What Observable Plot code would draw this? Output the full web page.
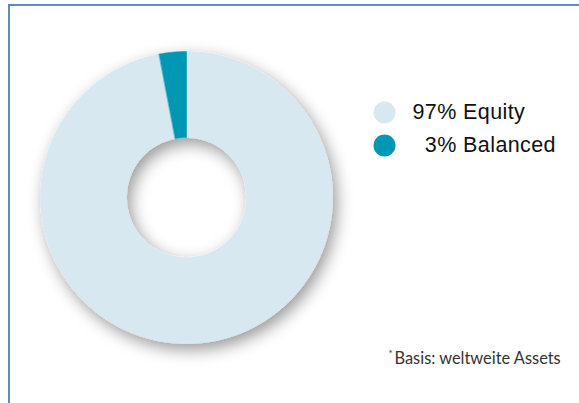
<!DOCTYPE html>
<html>
<head>
<meta charset="utf-8">
<script src="https://cdn.jsdelivr.net/npm/d3@7"></script>
<script src="https://cdn.jsdelivr.net/npm/@observablehq/plot@0.6"></script>
<style>
  html, body { margin: 0; padding: 0; background: #fff; }
  #wrap { position: relative; width: 579px; height: 403px; overflow: hidden; }
  #frame { position: absolute; left: 8px; top: 4px; width: 600px; height: 420px;
           border-top: 2px solid #6189bb; border-left: 2px solid #6189bb; pointer-events: none; }
</style>
</head>
<body>
<div id="wrap"><div id="frame"></div></div>
<script>
// ---- data ----
const categories = ["Equity", "Balanced"];
const shares = [97, 3];
const legendLabels = ["97% Equity", "\u20073% Balanced"];
const colors = ["#d7e8f1", "#0097b4"];
const noteMark = "*";
const caption = "Basis: weltweite Assets";

// ---- layout constants (pixel-based data space) ----
const cx = 186, cy = 197, W = 579, H = 403;
const rOuter = 146, rInner = 60;

const rows = categories.map((c, i) => ({category: c, share: shares[i], label: legendLabels[i]}));
const arcs = d3.pie().sort(null).value(d => d.share)(rows);

const pts = [];
for (const a of arcs) {
  const n = Math.max(2, Math.ceil((a.endAngle - a.startAngle) / (Math.PI / 360)));
  for (let k = 0; k <= n; k++) {
    const t = a.startAngle + (a.endAngle - a.startAngle) * k / n;
    pts.push({category: a.data.category, x: rOuter * Math.sin(t), y: rOuter * Math.cos(t)});
  }
  for (let k = n; k >= 0; k--) {
    const t = a.startAngle + (a.endAngle - a.startAngle) * k / n;
    pts.push({category: a.data.category, x: rInner * Math.sin(t), y: rInner * Math.cos(t)});
  }
}

const px = v => v - cx;       // pixel x -> data x
const py = v => cy - v;       // pixel y -> data y

const chart = Plot.plot({
  width: W, height: H, margin: 0,
  style: {background: "transparent", overflow: "visible"},
  x: {domain: [-cx, W - cx], axis: null},
  y: {domain: [cy - H, cy], axis: null},
  color: {domain: categories, range: colors},
  marks: [
    Plot.line(pts, {x: "x", y: "y", z: "category", fill: "category", stroke: "category", strokeWidth: 0.5, curve: "linear-closed"}),
    Plot.dot(rows, {x: () => px(384), y: (d, i) => py(112 + i * 33), r: 11, fill: "category", stroke: null}),
    Plot.text(rows, {x: () => px(412), y: (d, i) => py(112 + i * 33), text: "label", textAnchor: "start",
      fontSize: 21.5, fontFamily: "Liberation Sans, Arial, sans-serif", fill: "#111",
      letterSpacing: "0.4px"}),
    Plot.text([noteMark], {x: () => px(388), y: () => py(353), text: d => d, textAnchor: "start",
      fontSize: 10, fontFamily: "Lato, sans-serif", fill: "#333"}),
    Plot.text([caption], {x: () => px(394), y: () => py(358.7), text: d => d, textAnchor: "start",
      fontSize: 16.4, fontFamily: "Lato, sans-serif", fill: "#333"})
  ]
});

const svg = d3.select(chart);
svg.selectAll('g[aria-label="text"] text').style("letter-spacing", null);
svg.selectAll('g[aria-label="text"]').filter((d, i) => i === 0).style("letter-spacing", "0.4px");
const defs = svg.insert("defs", ":first-child");
const f = defs.append("filter").attr("id", "donutShadow")
  .attr("x", "-30%").attr("y", "-30%").attr("width", "160%").attr("height", "160%");
f.append("feDropShadow").attr("dx", 4).attr("dy", 6).attr("stdDeviation", 8)
  .attr("flood-color", "#000").attr("flood-opacity", 0.4);
svg.select('g[aria-label="line"]').attr("filter", "url(#donutShadow)");

const wrap = document.getElementById("wrap");
wrap.insertBefore(chart, wrap.firstChild);
chart.style.position = "absolute";
chart.style.left = "0px";
chart.style.top = "0px";
</script>
</body>
</html>
